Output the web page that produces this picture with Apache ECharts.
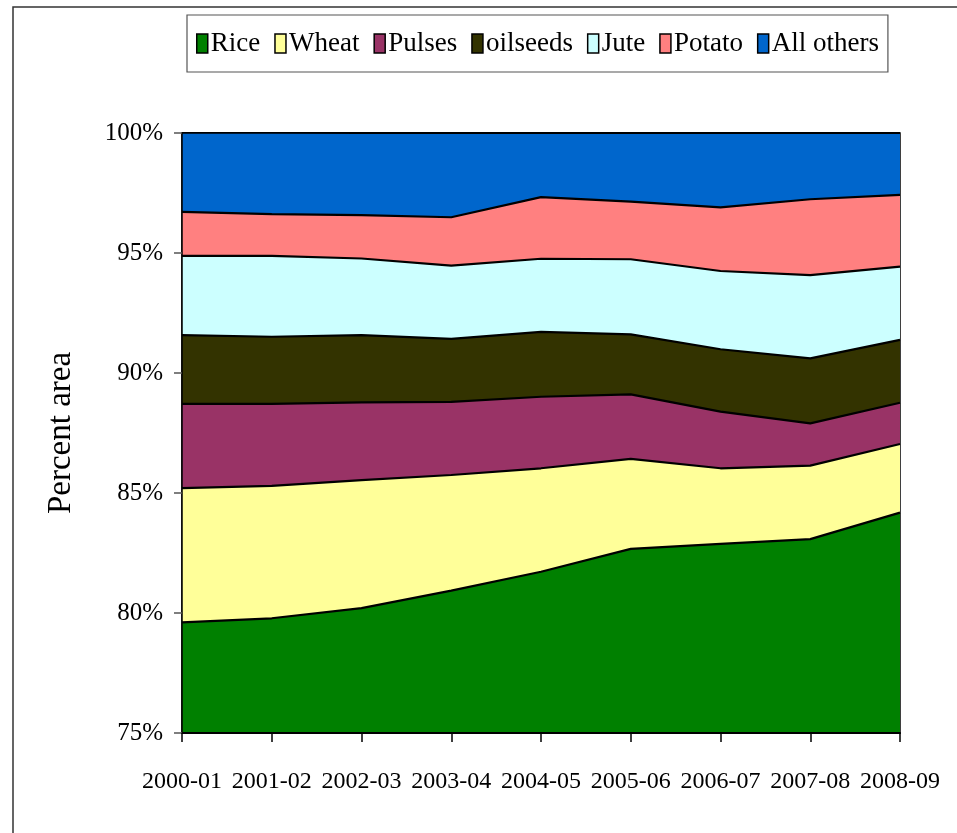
<!DOCTYPE html>
<html>
<head>
<meta charset="utf-8">
<script src="https://cdn.jsdelivr.net/npm/echarts@6/dist/echarts.min.js"></script>
<style>
html,body{margin:0;padding:0;background:#fff;}
#chart{width:957px;height:833px;}
</style>
</head>
<body>
<div id="chart"></div>
<script>
// Crop-year categories
var categories = ['2000-01','2001-02','2002-03','2003-04','2004-05','2005-06','2006-07','2007-08','2008-09'];
// Share of area (%) by crop
var rice     = [79.61, 79.78, 80.20, 80.93, 81.72, 82.67, 82.88, 83.08, 84.18];
var wheat    = [5.59, 5.52, 5.34, 4.82, 4.31, 3.75, 3.15, 3.06, 2.86];
var pulses   = [3.51, 3.41, 3.24, 3.05, 2.98, 2.69, 2.36, 1.76, 1.72];
var oilseeds = [2.87, 2.80, 2.80, 2.62, 2.70, 2.50, 2.60, 2.71, 2.62];
var jute     = [3.30, 3.37, 3.19, 3.05, 3.05, 3.13, 3.26, 3.47, 3.05];
var potato   = [1.83, 1.74, 1.81, 2.02, 2.57, 2.40, 2.65, 3.16, 2.99];
var others   = [3.30, 3.39, 3.42, 3.51, 2.67, 2.86, 3.10, 2.76, 2.58];
var seriesNames = ['Rice','Wheat','Pulses','oilseeds','Jute','Potato','All others'];
var yTicks = {min: 75, max: 100, step: 5};

var colors = ['#008000','#FFFF99','#993366','#333300','#CCFFFF','#FF8080','#0066CC'];
var dataSets = [rice, wheat, pulses, oilseeds, jute, potato, others];
var FONT = 'Liberation Serif, Times New Roman, serif';

var chart = echarts.init(document.getElementById('chart'), null, {renderer:'canvas'});
var series = seriesNames.map(function(n, i){
  return {
    name: n,
    type: 'line',
    stack: 'total',
    data: dataSets[i],
    symbol: 'none',
    color: colors[i],
    lineStyle: {color: '#000', width: 2.2},
    areaStyle: {color: colors[i], opacity: 1},
    itemStyle: {color: colors[i]},
    z: 2
  };
});

chart.setOption({
  animation: false,
  backgroundColor: '#fff',
  graphic: [{
    type: 'rect',
    shape: {x: 13, y: 7, width: 980, height: 860},
    style: {fill: 'none', stroke: '#333', lineWidth: 1.5},
    silent: true, z: 0
  }],
  legend: {
    data: seriesNames,
    left: 187,
    top: 15,
    padding: [15, 9, 15, 9],
    borderColor: '#555',
    borderWidth: 1.2,
    itemWidth: 11,
    itemHeight: 19,
    itemGap: 14,
    icon: 'rect',
    itemStyle: {borderColor: '#000', borderWidth: 1.5},
    textStyle: {fontFamily: FONT, fontSize: 27, color: '#000', padding: [0,0,0,-2]}
  },
  grid: {
    left: 182, right: 57, top: 133, bottom: 100,
    show: true, borderColor: '#000', borderWidth: 1.5, backgroundColor: 'transparent'
  },
  xAxis: {
    type: 'category',
    data: categories,
    boundaryGap: false,
    axisLine: {show: true, lineStyle: {color: '#000', width: 2}},
    axisTick: {show: true, length: 9, lineStyle: {color: '#000', width: 1.5}},
    axisLabel: {fontFamily: FONT, fontSize: 24, color: '#000', margin: 37, interval: 0},
    splitLine: {show: false},
    z: 5
  },
  yAxis: {
    type: 'value',
    min: yTicks.min, max: yTicks.max, interval: yTicks.step,
    name: 'Percent area',
    nameLocation: 'middle',
    nameGap: 104,
    nameRotate: 90,
    nameTextStyle: {fontFamily: FONT, fontSize: 33, color: '#000'},
    axisLine: {show: true, lineStyle: {color: '#000', width: 1.5}},
    axisTick: {show: true, length: 8, lineStyle: {color: '#555', width: 1.5}},
    axisLabel: {fontFamily: FONT, fontSize: 25, color: '#000', margin: 19, formatter: '{value}%'},
    splitLine: {show: false},
    z: 5
  },
  series: series
});
</script>
</body>
</html>
